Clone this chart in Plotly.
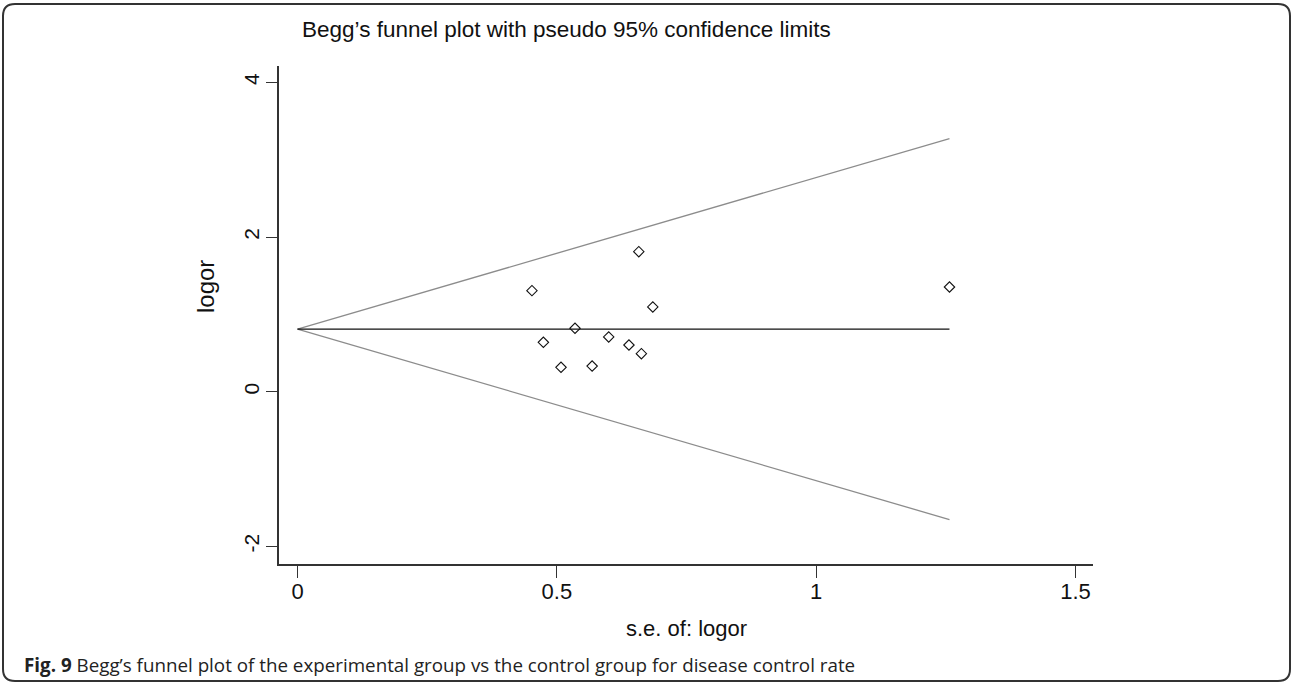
import plotly.graph_objects as go

# ---- data ----
se_logor = [0.452, 0.658, 0.685, 0.535, 0.474, 0.600, 0.639, 0.663, 0.508, 0.568, 1.257]
logor = [1.307, 1.811, 1.096, 0.820, 0.639, 0.708, 0.604, 0.492, 0.316, 0.332, 1.354]
pooled = 0.81
x_ticks = [0, 0.5, 1, 1.5]
x_ticklabels = ["0", "0.5", "1", "1.5"]
y_ticks = [-2, 0, 2, 4]
y_ticklabels = ["-2", "0", "2", "4"]

title_text = "Begg’s funnel plot with pseudo 95% confidence limits"
caption_bold = "Fig. 9"
caption_text = " Begg’s funnel plot of the experimental group vs the control group for disease control rate"

W, H = 1292, 683
L, R, T, B = 279, 1093, 66, 564  # plot area in pixels


def px(x):
    return (x - L) / (R - L)


def py(y):
    return (B - y) / (B - T)


se_max = max(se_logor)
z = 1.96

fig = go.Figure()
# pseudo 95% limits
fig.add_trace(go.Scatter(x=[0, se_max], y=[pooled, pooled + z * se_max], mode="lines",
                         line=dict(color="#8c8c8c", width=1.3), showlegend=False, hoverinfo="skip"))
fig.add_trace(go.Scatter(x=[0, se_max], y=[pooled, pooled - z * se_max], mode="lines",
                         line=dict(color="#8c8c8c", width=1.3), showlegend=False, hoverinfo="skip"))
# pooled estimate
fig.add_trace(go.Scatter(x=[0, se_max], y=[pooled, pooled], mode="lines",
                         line=dict(color="#111111", width=1.3), showlegend=False, hoverinfo="skip"))
# studies
fig.add_trace(go.Scatter(x=se_logor, y=logor, mode="markers",
                         marker=dict(symbol="diamond-open", size=8, color="#111111",
                                     line=dict(width=1.1, color="#111111")),
                         showlegend=False))

FAM = "Liberation Sans, Arial, sans-serif"

fig.update_xaxes(range=[-0.0357, 1.5337], tickvals=x_ticks, ticktext=x_ticklabels,
                 showgrid=False, zeroline=False, showline=True, linecolor="#333333", linewidth=1.5,
                 ticks="outside", ticklen=12, tickwidth=1.3, tickcolor="#333333",
                 ticklabelstandoff=-5,
                 tickfont=dict(family=FAM, size=22, color="#111111"))
fig.update_yaxes(range=[-2.228, 4.212], tickvals=y_ticks, ticktext=y_ticklabels,
                 showgrid=False, zeroline=False, showline=True, linecolor="#333333", linewidth=1.5,
                 ticks="outside", ticklen=11, tickwidth=1.3, tickcolor="#333333",
                 ticklabelstandoff=-1,
                 tickangle=-90, tickfont=dict(family=FAM, size=21, color="#111111"))

annotations = [
    dict(text=title_text, x=px(300), y=py(30), xref="paper", yref="paper",
         xanchor="left", yanchor="middle", showarrow=False,
         font=dict(family=FAM, size=22.5, color="#111111")),
    dict(text="s.e. of: logor", x=px(686), y=py(628), xref="paper", yref="paper",
         xanchor="center", yanchor="middle", showarrow=False,
         font=dict(family=FAM, size=22, color="#111111")),
    dict(text="logor", x=px(205), y=py(287), xref="paper", yref="paper",
         xanchor="center", yanchor="middle", showarrow=False, textangle=-90,
         font=dict(family=FAM, size=24, color="#111111")),
    dict(text="<b>" + caption_bold + "</b>" + caption_text, x=px(22), y=py(665),
         xref="paper", yref="paper", xanchor="left", yanchor="middle", showarrow=False,
         font=dict(family="Open Sans, sans-serif", size=18.8, color="#222222")),
]

# rounded frame around the figure
x0, x1, y0, y1, r = 3, 1290, 4, 681, 12
path = (f"M {px(x0 + r)},{py(y0)} L {px(x1 - r)},{py(y0)} "
        f"Q {px(x1)},{py(y0)} {px(x1)},{py(y0 + r)} "
        f"L {px(x1)},{py(y1 - r)} Q {px(x1)},{py(y1)} {px(x1 - r)},{py(y1)} "
        f"L {px(x0 + r)},{py(y1)} Q {px(x0)},{py(y1)} {px(x0)},{py(y1 - r)} "
        f"L {px(x0)},{py(y0 + r)} Q {px(x0)},{py(y0)} {px(x0 + r)},{py(y0)} Z")

fig.update_layout(
    width=W, height=H,
    margin=dict(l=L, r=W - R, t=T, b=H - B, pad=0),
    paper_bgcolor="white", plot_bgcolor="white",
    annotations=annotations,
    shapes=[dict(type="path", path=path, xref="paper", yref="paper",
                 line=dict(color="#333333", width=2), layer="above")],
)

fig.write_html("out.html", config={"displayModeBar": False},
               post_script="document.body.style.margin='0';document.body.style.padding='0';"
                           "document.body.style.overflow='hidden';")
